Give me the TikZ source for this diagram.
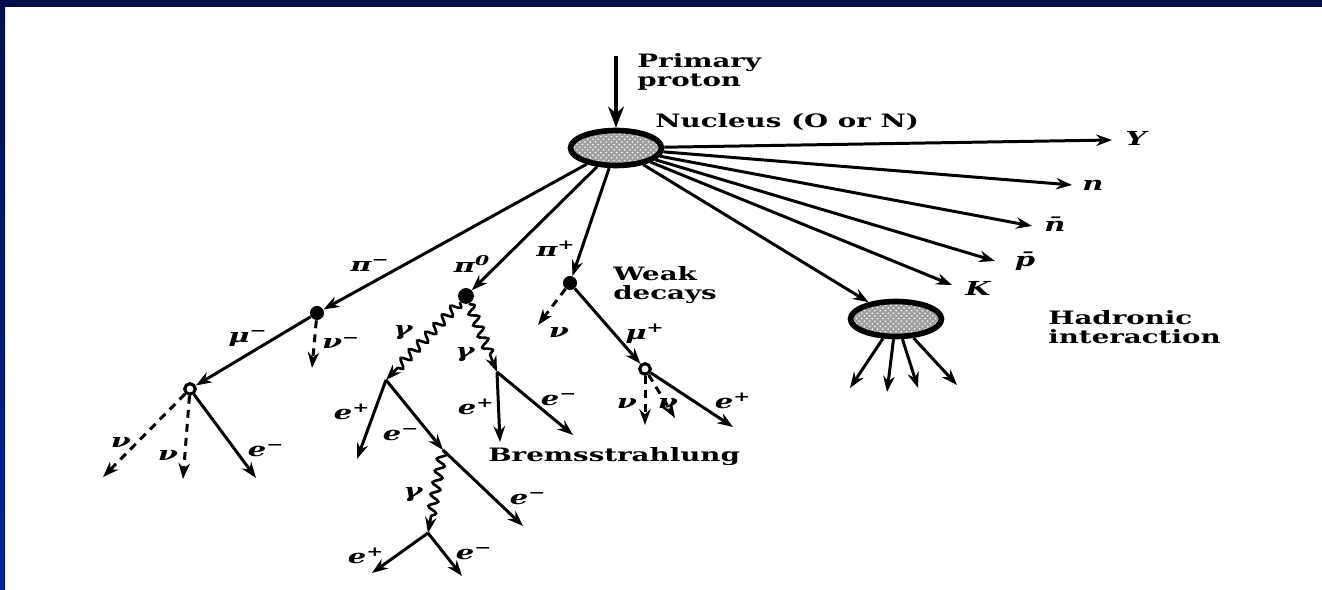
\documentclass[tikz,border=0pt]{standalone}
\usepackage{fontspec}
\setmainfont{DejaVu Serif}[FakeStretch=1.5]
\usepackage{amsmath}
\usetikzlibrary{arrows.meta,shapes.geometric,patterns,decorations.pathmorphing}
\definecolor{framenavy}{HTML}{00104A}
\definecolor{frameblue}{HTML}{0022A0}
\newcommand{\psup}[1]{\textsuperscript{#1}}

\begin{document}
\begin{tikzpicture}[x=0.02cm,y=-0.02cm,>={Stealth[length=9pt,width=6.5pt]},
 txt/.style={font=\fontsize{10.5}{11}\selectfont\bfseries,align=left,inner sep=0pt},
 lbl/.style={font=\fontsize{11}{12}\selectfont\bfseries\itshape,inner sep=0pt},
 trk/.style={->,line width=1.7pt},
 nu/.style={->,line width=1.7pt,dash pattern=on 4.5pt off 3.5pt},
 gam/.style={->,line width=1.5pt,decorate,decoration={snake,amplitude=0.9mm,segment length=2.4mm,post length=3.2mm}},
 blob/.style={ellipse,draw,line width=3.2pt,minimum width=1.82cm,minimum height=0.7cm,preaction={fill=gray!75},pattern=crosshatch dots,pattern color=white},
 vfill/.style={circle,fill,inner sep=0pt,minimum size=8pt},
 vopen/.style={circle,draw,fill=white,line width=1.8pt,inner sep=0pt,minimum size=6pt}]
 \useasboundingbox (0,0) rectangle (1322,590);
 \fill[white] (0,0) rectangle (1322,590);
 \fill[framenavy] (0,0) rectangle (1322,7);
 \shade[top color=framenavy,bottom color=frameblue] (0,7) rectangle (5,590);

 \node[blob] (nuc) at (616,148) {};
 \node[blob] (had) at (896,319) {};
 \coordinate (pp) at (616,56);
 \draw[->,line width=2.6pt,>={Stealth[length=12pt,width=9pt]}] (pp) -- (nuc);
 \node[txt,anchor=north west] (primary) at (637,53) {Primary\\proton};
 \node[txt,anchor=base west] (nuclbl) at (655,128) {Nucleus (O or N)};

 \coordinate (ytip) at (1112,140);
 \coordinate (ntip) at (1072,185);
 \coordinate (nbtip) at (1032,226);
 \coordinate (pbtip) at (995,261);
 \coordinate (ktip) at (952,285);
 \foreach \t in {ytip,ntip,nbtip,pbtip,ktip} \draw[trk] (nuc) -- (\t);
 \draw[trk] (nuc) -- (had);
 \node[lbl] (ylbl) at (1136,138) {Y};
 \node[lbl] (nlbl) at (1093,185) {n};
 \node[lbl] (nblbl) at (1055,224) {n̄};
 \node[lbl] (pblbl) at (1025,261) {p̄};
 \node[lbl] (klbl) at (978,288) {K};

 \coordinate (h1) at (850,388);
 \coordinate (h2) at (887,392);
 \coordinate (h3) at (918,388);
 \coordinate (h4) at (957,385);
 \foreach \t in {h1,h2,h3,h4} \draw[trk] (had) -- (\t);
 \node[txt,anchor=north west] (hadlbl) at (1048,310) {Hadronic\\interaction};

 \node[vfill] (pimdec) at (317,313) {};
 \node[vopen] (mumdec) at (190,389) {};
 \node[vfill,minimum size=9pt] (pizdec) at (466,296) {};
 \node[vfill] (pipdec) at (570,283) {};
 \node[vopen] (mupdec) at (645,369) {};
 \coordinate (conv1) at (386,380);
 \coordinate (conv2) at (497,372);
 \coordinate (brem) at (443,450);
 \coordinate (conv3) at (428,533);

 \draw[trk] (nuc) -- (pimdec);
 \draw[trk] (nuc) -- (pizdec);
 \draw[trk] (nuc) -- (pipdec);

 \coordinate (nu1) at (312,368);
 \coordinate (nu2) at (103,477);
 \coordinate (nu3) at (183,479);
 \coordinate (em1) at (256,478);
 \coordinate (ep1) at (357,459);
 \coordinate (em2) at (523,526);
 \coordinate (ep3) at (372,573);
 \coordinate (em3) at (462,576);
 \coordinate (ep2) at (500,442);
 \coordinate (em4) at (573,435);
 \coordinate (nu4) at (538,325);
 \coordinate (nu5) at (645,425);
 \coordinate (nu6) at (675,418);
 \coordinate (ep4) at (733,427);

 \draw[nu] (pimdec) -- (nu1);
 \draw[trk] (pimdec) -- (mumdec);
 \draw[nu] (mumdec) -- (nu2);
 \draw[nu] (mumdec) -- (nu3);
 \draw[trk] (mumdec) -- (em1);
 \draw[gam] (pizdec) -- (conv1);
 \draw[gam] (pizdec) -- (conv2);
 \draw[trk] (conv1) -- (ep1);
 \draw[trk] (conv1) -- (brem);
 \draw[trk] (brem) -- (em2);
 \draw[gam] (brem) -- (conv3);
 \draw[trk] (conv3) -- (ep3);
 \draw[trk] (conv3) -- (em3);
 \draw[trk] (conv2) -- (ep2);
 \draw[trk] (conv2) -- (em4);
 \draw[nu] (pipdec) -- (nu4);
 \draw[trk] (pipdec) -- (mupdec);
 \draw[nu] (mupdec) -- (nu5);
 \draw[nu] (mupdec) -- (nu6);
 \draw[trk] (mupdec) -- (ep4);

 \node[lbl] (pimlbl) at (370,266) {π\psup{−}};
 \node[lbl] (pizlbl) at (472,264) {π\psup{0}};
 \node[lbl] (piplbl) at (556,249) {π\psup{+}};
 \node[lbl] (nubl) at (341,343) {ν\psup{−}};
 \node[lbl] (mumlbl) at (248,339) {μ\psup{−}};
 \node[lbl] (nul2) at (121,442) {ν};
 \node[lbl] (nul3) at (168,455) {ν};
 \node[lbl] (eml1) at (266,451) {e\psup{−}};
 \node[lbl] (gl1) at (403,333) {γ};
 \node[lbl] (gl2) at (465,355) {γ};
 \node[lbl] (epl1) at (352,412) {e\psup{+}};
 \node[lbl] (eml2) at (401,435) {e\psup{−}};
 \node[lbl] (epl2) at (476,407) {e\psup{+}};
 \node[lbl] (eml4) at (559,400) {e\psup{−}};
 \node[lbl] (gl3) at (413,495) {γ};
 \node[lbl] (eml3) at (528,499) {e\psup{−}};
 \node[lbl] (epl3) at (366,556) {e\psup{+}};
 \node[lbl] (eml5) at (474,554) {e\psup{−}};
 \node[lbl] (nul4) at (559,332) {ν};
 \node[lbl] (mupl) at (645,334) {μ\psup{+}};
 \node[lbl] (nul5) at (627,403) {ν};
 \node[lbl] (nul6) at (668,403) {ν};
 \node[lbl] (epl4) at (733,401) {e\psup{+}};
 \node[txt,anchor=north west] (weak) at (613,266) {Weak\\decays};
 \node[txt,anchor=west] (brems) at (488,457) {Bremsstrahlung};
\end{tikzpicture}
\end{document}
